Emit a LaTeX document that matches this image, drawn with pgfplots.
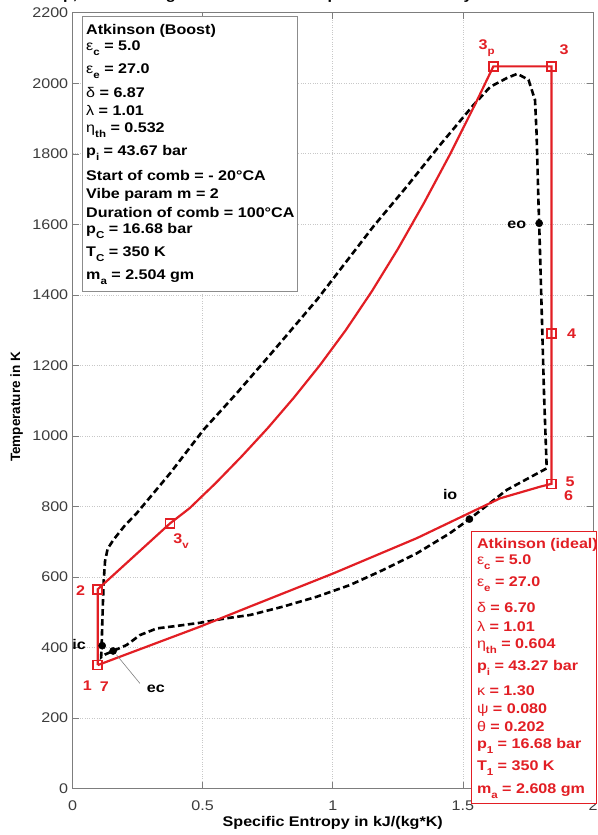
\documentclass[border=0pt]{standalone}
\usepackage{fontspec}
\setmainfont{Liberation Sans}[FakeStretch=1.15]
\newfontfamily\ylabfont{Liberation Sans}
\usepackage{pgfplots}
\pgfplotsset{compat=1.18}
\usetikzlibrary{calc}

\definecolor{cyclered}{RGB}{226,30,36}
\definecolor{axisgray}{RGB}{125,125,125}
\definecolor{ticktext}{RGB}{60,60,60}
\definecolor{gridgray}{RGB}{200,200,200}
\definecolor{boxgray}{RGB}{140,140,140}

\newcommand\sub[1]{\raisebox{-5pt}{\fontsize{10}{10}\selectfont\bfseries #1}}
\newcommand\gr[1]{{\mdseries #1}}
\newcommand\lbl{\bfseries\fontsize{14}{14}\selectfont}

\begin{document}
\begin{tikzpicture}
\begin{axis}[
  name=ax,
  width=520.4pt, height=775.5pt, scale only axis,
  xmin=0, xmax=2, ymin=0, ymax=2200,
  xtick={0,0.5,1,1.5,2}, ytick={0,200,...,2200},
  tick pos=both, ticklabel pos=left, tick align=inside,
  major tick length=6pt,
  every tick/.style={axisgray, line width=0.6pt},
  axis line style={axisgray, line width=0.7pt},
  grid=major,
  major grid style={gridgray, dotted, line width=0.7pt},
  /pgf/number format/assume math mode=true,
  /pgf/number format/1000 sep={},
  tick label style={font=\fontsize{14}{14}\selectfont, text=ticktext},
  xticklabel style={anchor=center, yshift=-17.5pt},
  yticklabel style={xshift=-0.8pt},
  xlabel={Specific Entropy in kJ/(kg*K)},
  ylabel={Temperature in K},
  xlabel style={font=\lbl, at={(axis description cs:0.5,-0.0445)}, anchor=center},
  ylabel style={font=\ylabfont\bfseries\fontsize{13.5}{13.5}\selectfont, at={(axis description cs:-0.1072,0.492)}, anchor=center},
  title={p, T and Charge Pressure and Temperature in both cycles are identical},
  title style={font=\lbl, at={(0.5,1)}, anchor=base, yshift=7.3pt},
  clip=false,
]

% real (Vibe) cycle
\addplot[black, line width=2.6pt, dash pattern=on 6.5pt off 3.5pt] table {
s T
0.112 405
0.114 460
0.117 530
0.120 590
0.125 645
0.135 680
0.157 705
0.200 745
0.247 781
0.375 894
0.503 1017
0.631 1121
0.759 1230
0.939 1386
1.156 1594
1.284 1707
1.412 1825
1.540 1938
1.605 1990
1.669 2015
1.709 2027
1.752 2010
1.777 1953
1.783 1859
1.790 1670
1.793 1603
1.803 1348
1.812 1111
1.822 908
1.669 847
1.525 764
1.450 724
1.323 667
1.194 620
1.066 577
0.939 544
0.810 516
0.682 492
0.593 483
0.490 470
0.400 461
0.324 454
0.259 435
0.208 407
0.156 390
0.125 380
0.110 372
0.112 405
};
\addplot[black, only marks, mark=*, mark size=3.6pt] table {
s T
0.114 405
0.156 390
1.525 764
1.793 1603
};

% ideal Atkinson cycle
\addplot[cyclered, line width=2.2pt] table {
s T
0.097 350
0.097 565
0.375 752
0.450 795
0.550 866
0.650 942
0.750 1022
0.850 1108
0.950 1200
1.050 1300
1.150 1410
1.250 1530
1.350 1660
1.450 1798
1.550 1945
1.617 2048
1.840 2048
1.840 1291
1.840 864
1.797 856
1.643 823
1.323 710
1.002 610
0.682 516
0.490 459
0.097 350
};
\addplot[cyclered, only marks, mark=square, mark size=4.5pt, mark options={line width=1.6pt}] table {
s T
0.097 350
0.097 565
0.375 752
1.617 2048
1.840 2048
1.840 1291
1.840 864
};

% point labels
\node[cyclered, font=\lbl] at (axis cs:0.057,292) {1};
\node[cyclered, font=\lbl] at (axis cs:0.122,288) {7};
\node[cyclered, font=\lbl] at (axis cs:0.0315,561) {2};
\node[cyclered, font=\lbl, anchor=base west, inner sep=0] at (axis cs:0.387,696) {3\sub{v}};
\node[cyclered, font=\lbl, anchor=base west, inner sep=0] at (axis cs:1.560,2095) {3\sub{p}};
\node[cyclered, font=\lbl] at (axis cs:1.889,2095) {3};
\node[cyclered, font=\lbl] at (axis cs:1.918,1291) {4};
\node[cyclered, font=\lbl] at (axis cs:1.912,870) {5};
\node[cyclered, font=\lbl] at (axis cs:1.906,830) {6};
\node[font=\lbl] at (axis cs:0.025,407) {ic};
\node[font=\lbl] at (axis cs:0.320,283) {ec};
\node[font=\lbl] at (axis cs:1.451,833) {io};
\node[font=\lbl] at (axis cs:1.707,1599) {eo};
\draw[gray, line width=0.6pt] (axis cs:0.169,379) -- (axis cs:0.259,298);
\end{axis}

% text boxes, in picture pixels measured from the top left corner
\begin{scope}[shift={($(ax.north west)+(-72.5pt,12.8pt)$)}, x=1pt, y=-1pt]
\draw[boxgray, fill=white, line width=0.8pt] (82.7,16.7) rectangle (297.3,291.7);
\begin{scope}[every node/.style={anchor=base west, inner sep=0, font=\lbl}]
\node at (86,34.3) {Atkinson (Boost)};
\node at (86,50.7) {\gr{ε}\sub{c} = 5.0};
\node at (86,73.3) {\gr{ε}\sub{e} = 27.0};
\node at (86,97.7) {\gr{δ} = 6.87};
\node at (86,115.7) {\gr{λ} = 1.01};
\node at (86,132.3) {\gr{η}\sub{th} = 0.532};
\node at (86,155.7) {p\sub{i} = 43.67 bar};
\node at (86,180) {Start of comb = - 20°CA};
\node at (86,198.3) {Vibe param m = 2};
\node at (86,217.3) {Duration of comb = 100°CA};
\node at (86,233.3) {p\sub{C} = 16.68 bar};
\node at (86,256.7) {T\sub{C} = 350 K};
\node at (86,279) {m\sub{a} = 2.504 gm};
\end{scope}

\draw[cyclered, fill=white, line width=0.8pt] (471.7,531.7) rectangle (596,803);
\begin{scope}[every node/.style={anchor=base west, inner sep=0, font=\lbl, text=cyclered}]
\node at (476.7,548.3) {Atkinson (ideal)};
\node at (476.7,564.3) {\gr{ε}\sub{c} = 5.0};
\node at (476.7,586.7) {\gr{ε}\sub{e} = 27.0};
\node at (476.7,612.3) {\gr{δ} = 6.70};
\node at (476.7,631) {\gr{λ} = 1.01};
\node at (476.7,648.3) {\gr{η}\sub{th} = 0.604};
\node at (476.7,670.7) {p\sub{i} = 43.27 bar};
\node at (476.7,695) {\gr{κ} = 1.30};
\node at (476.7,713.7) {\gr{ψ} = 0.080};
\node at (476.7,731.7) {\gr{θ} = 0.202};
\node at (476.7,748.3) {p\sub{1} = 16.68 bar};
\node at (476.7,770) {T\sub{1} = 350 K};
\node at (476.7,793.3) {m\sub{a} = 2.608 gm};
\end{scope}
\end{scope}

\pgfresetboundingbox
\path[use as bounding box] ($(ax.south west)+(-72.5pt,-46.5pt)$) rectangle ($(ax.north east)+(4.1pt,12.8pt)$);
\end{tikzpicture}
\end{document}
